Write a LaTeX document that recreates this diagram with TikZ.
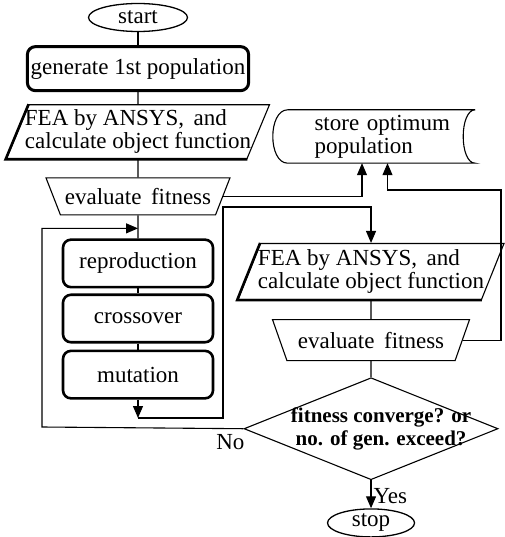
\documentclass[tikz,border=0pt]{standalone}
\usepackage{fontspec}
\setmainfont{Liberation Serif}
\usetikzlibrary{positioning,shapes.geometric,arrows.meta}

\begin{document}
\begin{tikzpicture}[
    x=1pt, y=-1pt,
    node distance=12pt,
    every node/.style={align=center, font=\fontsize{23}{23}\selectfont},
    term/.style={draw, ellipse, line width=1.3pt, inner sep=0pt,
      minimum width=99pt, minimum height=28pt},
    box/.style={draw, rounded corners=8pt, line width=2.6pt,
      minimum width=150pt, minimum height=47.5pt},
    io/.style={draw, trapezium, trapezium left angle=66,
      trapezium right angle=114, trapezium stretches body,
      line width=1.1pt, inner xsep=-6pt, align=left,
      minimum width=263pt, minimum height=54pt},
    evalbox/.style={draw, trapezium, trapezium left angle=122,
      trapezium right angle=122, trapezium stretches body,
      line width=1.1pt, inner xsep=-5pt,
      minimum width=184pt, minimum height=37pt},
    decision/.style={draw, diamond, aspect=2.5, line width=1.1pt,
      inner xsep=-25pt, inner ysep=-10pt,
      minimum width=254pt, minimum height=102pt,
      font=\fontsize{21}{23}\selectfont\bfseries},
    datastore/.style={text width=150pt, inner xsep=18.5pt,
      minimum height=53pt, align=left},
    link/.style={line width=1.1pt},
    arr/.style={link, -{Triangle[length=12pt,width=10pt]}}
  ]
    \useasboundingbox (0,0) rectangle (504,537);

    % left column
    \node[term] (start) at (138,17.5) {start};
    \node[box, below=13pt of start, minimum width=219pt,
      minimum height=44pt, line width=3pt] (gen)
      {generate 1st population};
    \node[io, below=12pt of gen] (fea)
      {FEA by ANSYS,\, and\\calculate object function};
    \node[evalbox, below=18pt of fea] (eval) {evaluate\, fitness};
    \node[box, below=23pt of eval] (rep) {reproduction};
    \node[box, below=5pt of rep] (cross) {crossover};
    \node[box, below=6pt of cross] (mut) {mutation};

    % right column
    \node[datastore] (store) at (381.5,136.5) {\hspace*{8pt}store optimum\\\hspace*{8pt}population};
    \node[io, minimum width=266pt, minimum height=56pt] (fea2) at (371,271.5)
      {FEA by ANSYS,\, and\\calculate object function};
    \node[evalbox, below=19pt of fea2, minimum width=197pt,
      minimum height=41pt] (eval2) {evaluate\, fitness};
    \node[decision, below=16pt of eval2] (conv)
      {\hspace*{20pt}fitness converge? or\\\hspace*{20pt}no. of gen. exceed?};
    \node[term, below=28pt of conv, minimum width=87pt] (stop) {stop};

    % outlines
    \draw[link] (store.north east) -- (store.north west)
      .. controls ([xshift=-20pt]store.north west) and ([xshift=-20pt]store.south west) .. (store.south west)
      -- (store.south east)
      .. controls ([xshift=-16pt]store.south east) and ([xshift=-16pt]store.north east) .. (store.north east);
    \draw[line width=2.6pt] (fea.top left corner) -- (fea.bottom left corner) -- (fea.bottom right corner);
    \draw[line width=2.6pt] (fea2.top left corner) -- (fea2.bottom left corner) -- (fea2.bottom right corner);

    \coordinate (nobend) at (42,427);
    \coordinate (mbend) at (223,418);
    \coordinate (mtop) at (223,207);
    \coordinate (rbend) at (501,190);

    \draw[link] (start) -- (gen);
    \draw[link] (gen) -- (fea);
    \draw[link] (fea) -- (eval);
    \draw[link] (eval) -- (rep);
    \draw[link] (rep) -- (cross);
    \draw[link] (cross) -- (mut);
    \draw[link] (fea2) -- (eval2);
    \draw[link] (eval2) -- (conv);
    \draw[arr] (conv) -- node[pos=0.55, right, inner sep=2pt] {Yes} (stop);
    \draw[arr] (conv.west) -- node[pos=0.065, below, inner sep=5pt] {No}
      (nobend) |- ([yshift=10pt]rep.north);
    \draw[arr] (mut) -- (mut |- mbend);
    \draw[arr] (mut |- mbend) -- (mbend) -- (mtop) -| (fea2.north);
    \draw[arr] (eval.east) -| ([xshift=-19.5pt]store.south);
    \draw[arr] (eval2.east) -| (rbend) -| ([xshift=6pt]store.south);
  \end{tikzpicture}
\end{document}
